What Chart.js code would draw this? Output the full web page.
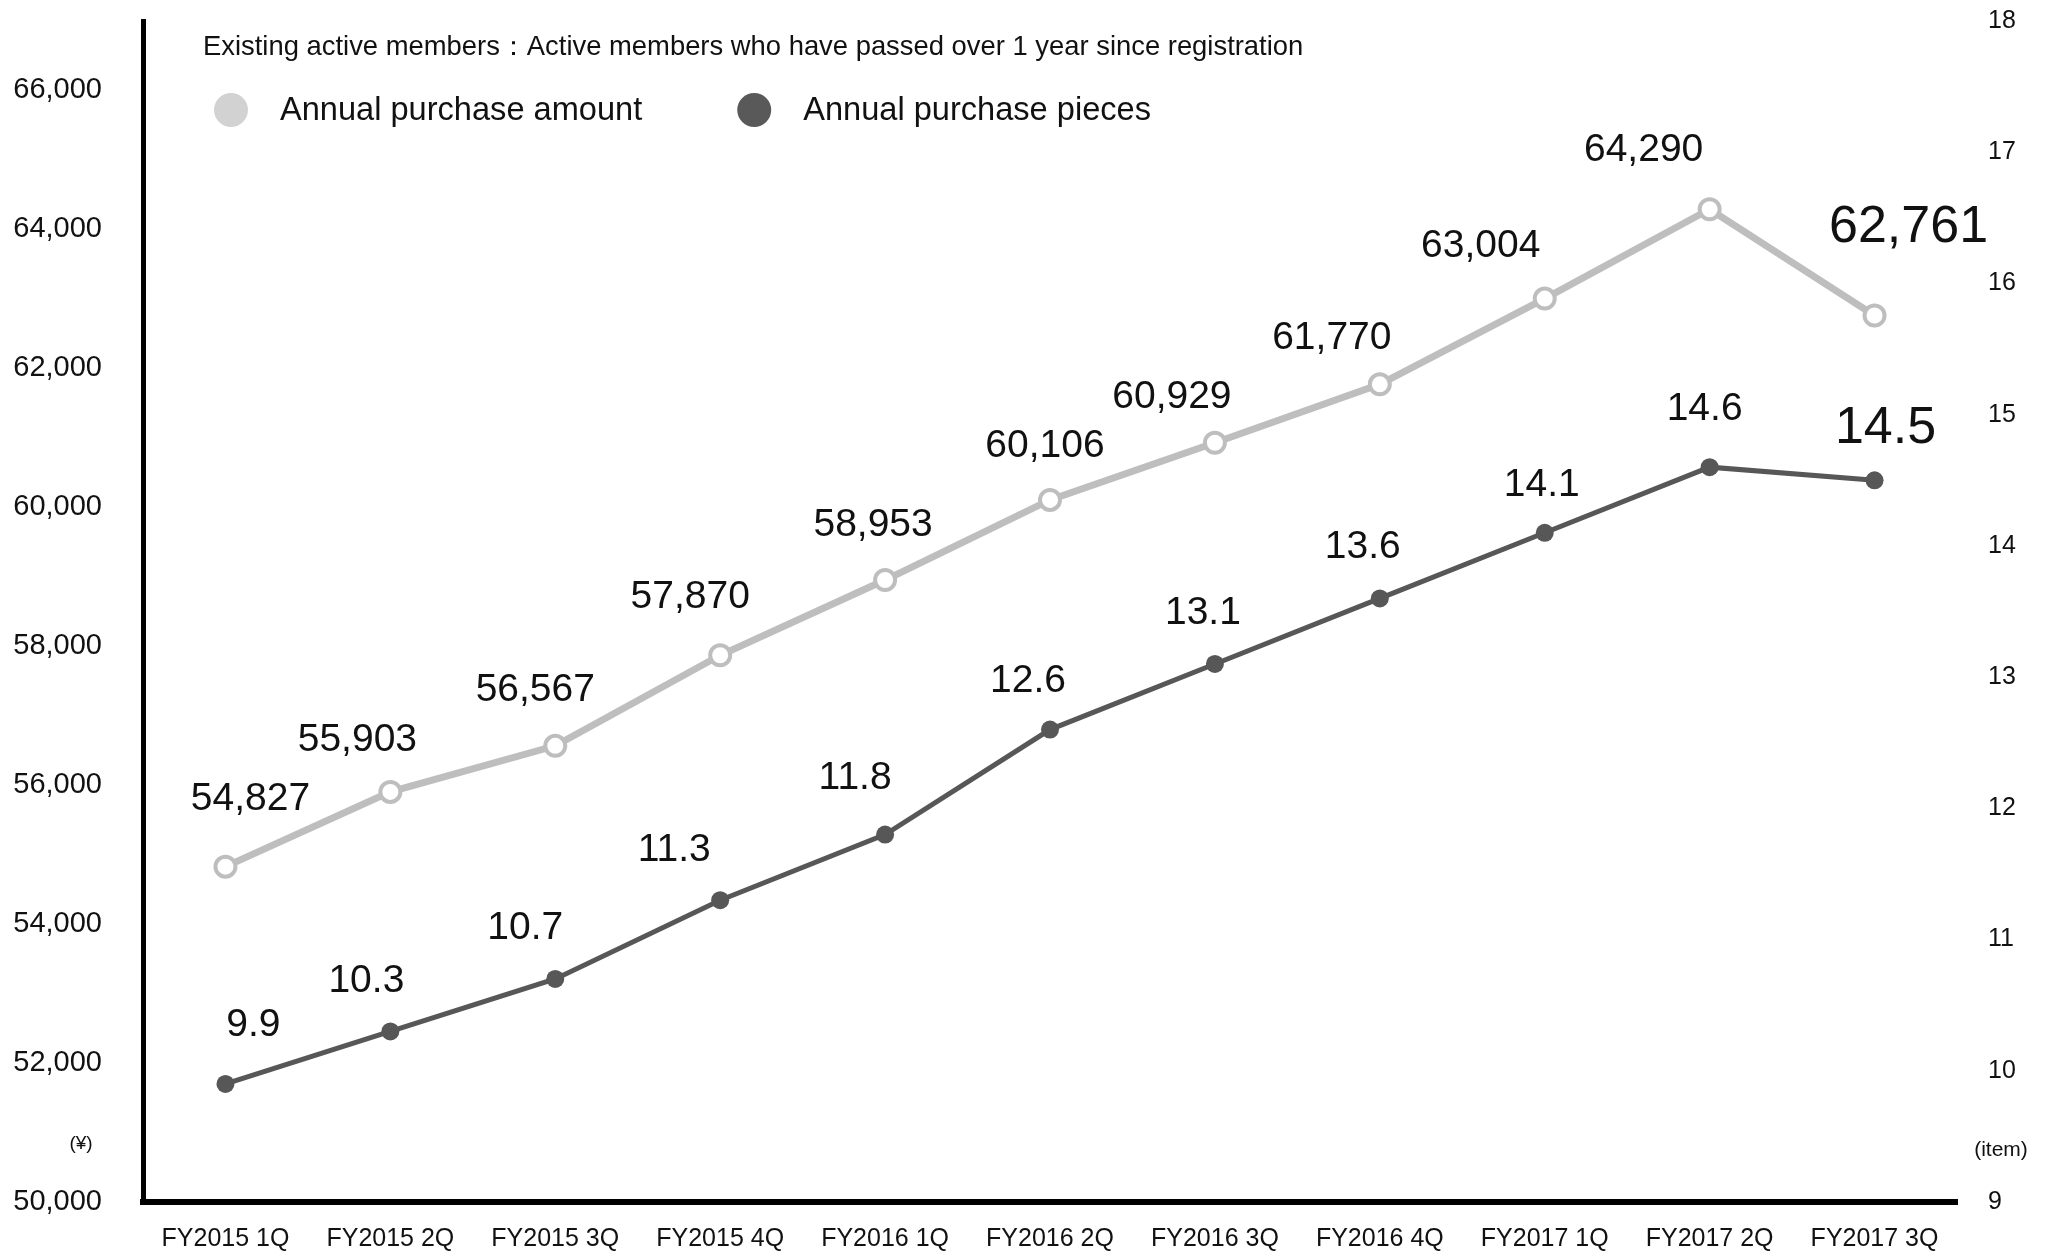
<!DOCTYPE html>
<html>
<head>
<meta charset="utf-8">
<title>Existing active members</title>
<script src="https://cdn.jsdelivr.net/npm/chart.js@4.4.1/dist/chart.umd.min.js"></script>
<style>
    html, body { margin: 0; padding: 0; background: #fff; }
    #wrap { width: 2055px; height: 1255px; position: relative; }
</style>
</head>
<body>
<div id="wrap"><canvas id="chart1"></canvas></div>
<script>
// quarterly figures for existing active members
const quarters = ['FY2015 1Q', 'FY2015 2Q', 'FY2015 3Q', 'FY2015 4Q', 'FY2016 1Q', 'FY2016 2Q',
    'FY2016 3Q', 'FY2016 4Q', 'FY2017 1Q', 'FY2017 2Q', 'FY2017 3Q'];
const purchaseAmount = [54827, 55903, 56567, 57870, 58953, 60106, 60929, 61770, 63004, 64290, 62761];
const purchasePieces = [9.9, 10.3, 10.7, 11.3, 11.8, 12.6, 13.1, 13.6, 14.1, 14.6, 14.5];
const amountTicks = [50000, 52000, 54000, 56000, 58000, 60000, 62000, 64000, 66000];
const piecesTicks = [9, 10, 11, 12, 13, 14, 15, 16, 17, 18];

const subtitle = 'Existing active members：Active members who have passed over 1 year since registration';
const FONT = "'Liberation Sans', Arial, Helvetica, sans-serif";

// where each value label sits relative to its point (dx, dy)
const labelShift = [
    [[25, -67], [-33, -52], [-20, -56], [-30, -58], [-12, -55], [-5, -54], [-43, -46], [-48, -46], [-64, -52], [-66, -59], [34, -88]],
    [[28, -59], [-24, -50], [-30, -51], [-46, -50], [-30, -56], [-22, -48], [-12, -51], [-17, -51], [-3, -48], [-5, -58], [11, -52]]
];
const legendDots = ['#d2d2d2', '#595959'];

Chart.defaults.font.family = FONT;
Chart.defaults.color = '#111';

const valueLabels = {
    id: 'valueLabels',
    afterDatasetsDraw(chart) {
        const ctx = chart.ctx;
        ctx.save();
        ctx.fillStyle = '#111';
        ctx.textAlign = 'center';
        ctx.textBaseline = 'middle';
        chart.data.datasets.forEach((ds, i) => {
            const meta = chart.getDatasetMeta(i);
            meta.data.forEach((pt, j) => {
                const last = j === ds.data.length - 1;
                ctx.font = (last ? 52 : 39) + 'px ' + FONT;
                const txt = i === 0 ? ds.data[j].toLocaleString('en-US') : ds.data[j].toFixed(1);
                const s = labelShift[i][j];
                ctx.fillText(txt, pt.x + s[0], pt.y + s[1]);
            });
        });
        ctx.restore();
    }
};

const header = {
    id: 'header',
    afterDraw(chart) {
        const { ctx, chartArea } = chart;
        ctx.save();
        ctx.fillStyle = '#111';
        ctx.textBaseline = 'middle';
        ctx.textAlign = 'left';
        ctx.font = '27.4px ' + FONT;
        ctx.fillText(subtitle, chartArea.left + 60, chartArea.top + 26);

        // legend row
        ctx.font = '32.6px ' + FONT;
        let x = chartArea.left + 88;
        const y = chartArea.top + 89;
        chart.data.datasets.forEach((ds, i) => {
            ctx.fillStyle = legendDots[i];
            ctx.beginPath();
            ctx.arc(x, y, 17, 0, Math.PI * 2);
            ctx.fill();
            ctx.fillStyle = '#111';
            ctx.fillText(ds.label, x + 49, y + 1);
            x += 49 + ctx.measureText(ds.label).width + 112;
        });

        // units
        ctx.textAlign = 'center';
        ctx.font = '19px ' + FONT;
        ctx.fillText('(¥)', chartArea.left - 62, chartArea.bottom - 58);
        ctx.font = '21px ' + FONT;
        ctx.fillText('(item)', chartArea.right + 44, chartArea.bottom - 52);
        ctx.restore();
    }
};

// keep the plot area flush with the layout box
function noOverhang(scale) {
    scale.paddingTop = 0;
    scale.paddingBottom = 0;
    scale.paddingLeft = 0;
    scale.paddingRight = 0;
}

const ctx = document.getElementById('chart1');

new Chart(ctx, {
    type: 'line',
    data: {
        labels: quarters,
        datasets: [{
            label: 'Annual purchase amount',
            data: purchaseAmount,
            yAxisID: 'yAmount',
            borderColor: '#bebebe',
            borderWidth: 7,
            pointRadius: 10,
            pointBorderWidth: 4,
            pointBorderColor: '#bebebe',
            pointBackgroundColor: '#ffffff',
            tension: 0
        }, {
            label: 'Annual purchase pieces',
            data: purchasePieces,
            yAxisID: 'yPieces',
            borderColor: '#575757',
            borderWidth: 5,
            pointRadius: 9,
            pointBorderWidth: 0,
            pointBackgroundColor: '#575757',
            tension: 0
        }]
    },
    options: {
        responsive: true,
        maintainAspectRatio: false,
        devicePixelRatio: 1,
        animation: false,
        layout: { padding: { top: 21, left: 0, right: 0, bottom: 0 } },
        plugins: {
            legend: { display: false },
            title: { display: false },
            tooltip: { enabled: false }
        },
        scales: {
            x: {
                offset: true,
                grid: { display: false, drawTicks: false },
                border: { display: true, color: '#000', width: 6 },
                ticks: { color: '#111', font: { size: 25 }, padding: 22, maxRotation: 0, autoSkip: false },
                afterFit(scale) { noOverhang(scale); scale.height = 53; }
            },
            yAmount: {
                position: 'left',
                min: 50000,
                max: 67000,
                grid: { display: false, drawTicks: false },
                border: { display: true, color: '#000', width: 5 },
                afterBuildTicks(scale) { scale.ticks = amountTicks.map(v => ({ value: v })); },
                ticks: {
                    color: '#111',
                    font: { size: 29 },
                    padding: 41,
                    callback: v => v.toLocaleString('en-US')
                },
                afterFit(scale) { noOverhang(scale); scale.width = 143; }
            },
            yPieces: {
                position: 'right',
                min: 9,
                max: 18,
                grid: { display: false, drawTicks: false },
                border: { display: false },
                afterBuildTicks(scale) { scale.ticks = piecesTicks.map(v => ({ value: v })); },
                ticks: { color: '#111', font: { size: 25 }, padding: 31 },
                afterFit(scale) { noOverhang(scale); scale.width = 98; }
            }
        }
    },
    plugins: [valueLabels, header]
});
</script>
</body>
</html>
